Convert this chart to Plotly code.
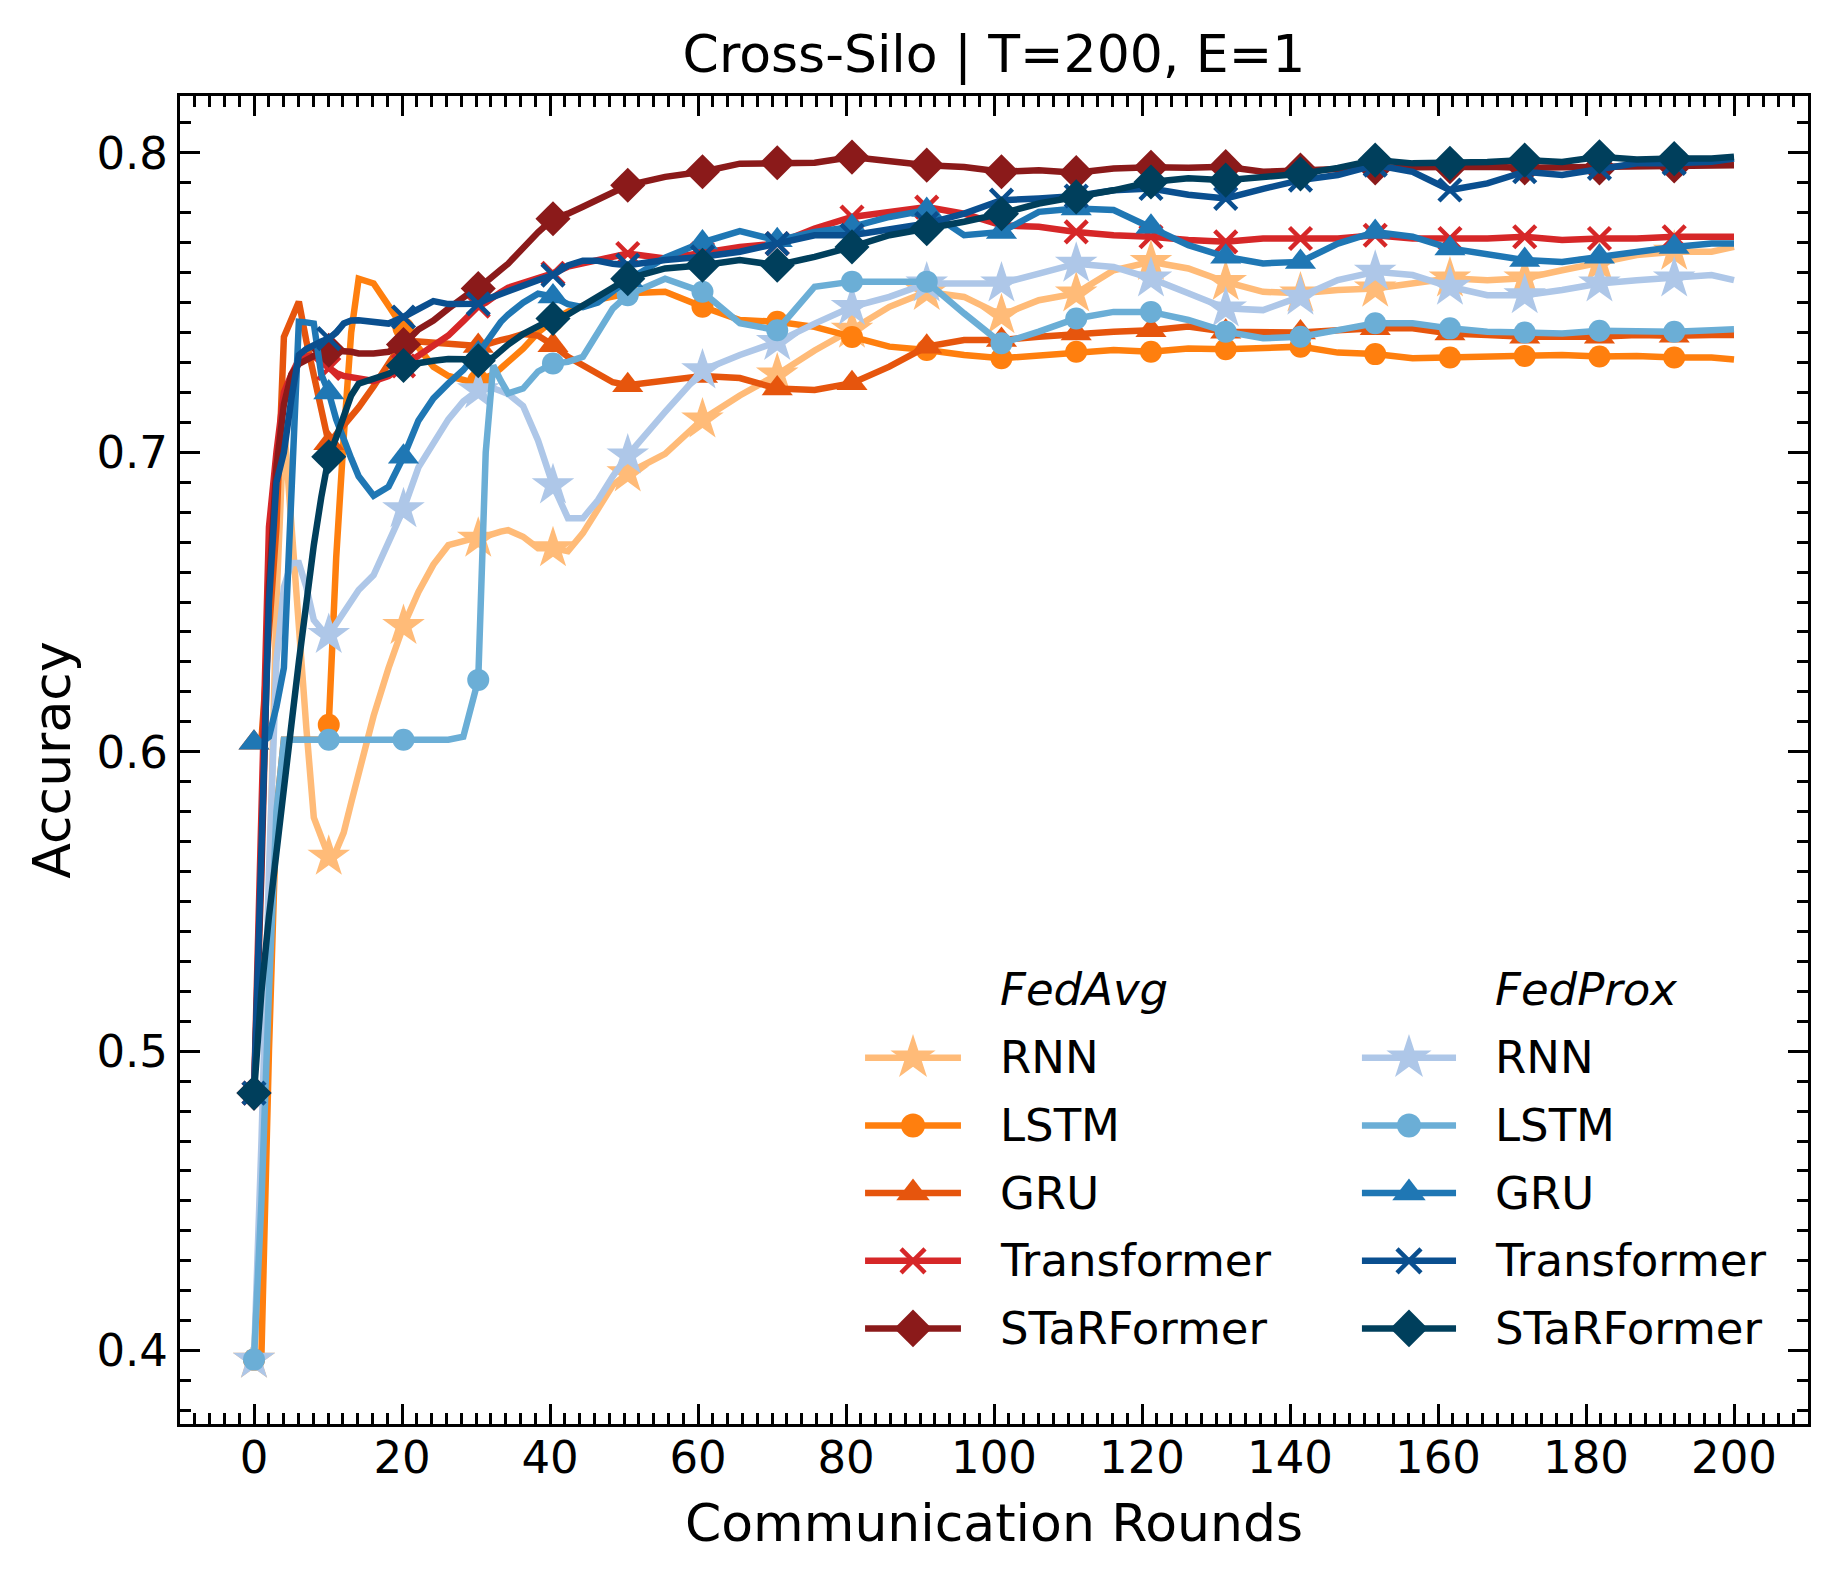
import plotly.graph_objects as go

# sampled round indices (data logged on 199 evenly spaced rounds between 0 and 200)
N_ROUNDS = 199
IDX = [0, 1, 2, 3, 4, 5, 6, 7, 8, 9, 10, 11, 12, 13, 14, 16, 18, 20, 22, 24, 26, 28,
       29, 30, 31, 32, 33, 34, 36, 38, 40, 42, 44, 46, 48, 50,
       55, 60, 65, 70, 75, 80, 85, 90, 95, 100, 105, 110, 115, 120,
       125, 130, 135, 140, 145, 150, 155, 160, 165, 170, 175, 180, 185, 190, 195, 198]

# FedAvg
rnn_avg = [0.397, 0.45, 0.55, 0.65, 0.71, 0.675, 0.64, 0.608, 0.578, 0.571, 0.565, 0.567, 0.573, 0.583, 0.593,
           0.612, 0.628, 0.642, 0.6534, 0.6625, 0.669, 0.6705, 0.671, 0.6712, 0.672, 0.673, 0.6735, 0.674,
           0.6718, 0.668, 0.668, 0.667, 0.673, 0.681, 0.689, 0.693,
           0.6995, 0.711, 0.719, 0.726, 0.734, 0.741, 0.7486, 0.7536, 0.7519, 0.7458, 0.7508, 0.7531, 0.7608, 0.7636,
           0.7614, 0.7569, 0.7536, 0.7531, 0.7542, 0.7547, 0.7564, 0.7581, 0.7575, 0.7581, 0.7608, 0.7631, 0.7659,
           0.767, 0.767, 0.7686]
lstm_avg = [0.397, 0.399, 0.50, 0.58, 0.604, 0.604, 0.604, 0.604, 0.604, 0.604, 0.609, 0.665, 0.705, 0.74, 0.758,
            0.7564, 0.749, 0.7414, 0.735, 0.7286, 0.7255, 0.7238, 0.7235, 0.724, 0.725, 0.726, 0.728, 0.730,
            0.7346, 0.740, 0.744, 0.747, 0.749, 0.751, 0.752, 0.7531,
            0.7536, 0.7486, 0.7442, 0.7436, 0.7419, 0.7385, 0.7353, 0.7342, 0.7325, 0.7314, 0.7325, 0.7336, 0.7342,
            0.7336, 0.7347, 0.7344, 0.735, 0.7353, 0.7333, 0.7328, 0.7314, 0.7317, 0.732, 0.7322, 0.7325, 0.732,
            0.7322, 0.7317, 0.7317, 0.731]
gru_avg = [0.603, 0.604, 0.64, 0.675, 0.7385, 0.7446, 0.7503, 0.7372, 0.725, 0.7145, 0.703, 0.706, 0.709, 0.712, 0.715,
           0.722, 0.73, 0.7372, 0.737, 0.7365, 0.736, 0.736, 0.7357, 0.7355, 0.736, 0.737, 0.7375, 0.738,
           0.7395, 0.739, 0.7358, 0.7319, 0.7289, 0.726, 0.7234, 0.7224,
           0.7241, 0.7255, 0.7248, 0.7213, 0.7208, 0.7231, 0.7286, 0.7353, 0.7375, 0.7375, 0.7386, 0.7397, 0.7403,
           0.7408, 0.742, 0.7403, 0.74, 0.74, 0.7408, 0.7414, 0.7414, 0.7397, 0.7392, 0.7386, 0.7386, 0.7386,
           0.7392, 0.7389, 0.7392, 0.7392]
tf_avg = [0.486, 0.58, 0.675, 0.70, 0.720, 0.726, 0.731, 0.732, 0.7322, 0.730, 0.728, 0.7265, 0.7255, 0.725, 0.7245,
          0.7238, 0.7255, 0.7289, 0.732, 0.7356, 0.739, 0.7438, 0.746, 0.7488, 0.750, 0.752, 0.7535, 0.755,
          0.7565, 0.758, 0.7598, 0.762, 0.763, 0.764, 0.765, 0.7664,
          0.7647, 0.7664, 0.7686, 0.7697, 0.7747, 0.7786, 0.7803, 0.7819, 0.7797, 0.7758, 0.7753, 0.7736, 0.7725,
          0.772, 0.7709, 0.7703, 0.7714, 0.7714, 0.7714, 0.7725, 0.7714, 0.7714, 0.7714, 0.772, 0.7709, 0.7714,
          0.7714, 0.772, 0.772, 0.772]
sf_avg = [0.486, 0.56, 0.655, 0.695, 0.716, 0.726, 0.7295, 0.731, 0.7325, 0.7335, 0.7341, 0.734, 0.7338, 0.7336, 0.733,
          0.733, 0.7336, 0.736, 0.741, 0.744, 0.748, 0.752, 0.7535, 0.7547, 0.757, 0.759, 0.761, 0.763,
          0.7685, 0.7735, 0.778, 0.7797, 0.782, 0.7845, 0.787, 0.7892,
          0.792, 0.7937, 0.7964, 0.7967, 0.7967, 0.7986, 0.7972, 0.7959, 0.7953, 0.7937, 0.7942, 0.7934, 0.7948,
          0.7952, 0.795, 0.7954, 0.7937, 0.7943, 0.7948, 0.795, 0.7952, 0.7954, 0.7954, 0.795, 0.7952, 0.795,
          0.7954, 0.7956, 0.7958, 0.7959]

# FedProx
rnn_prox = [0.397, 0.47, 0.56, 0.63, 0.655, 0.663, 0.663, 0.655, 0.644, 0.641, 0.639, 0.643, 0.647, 0.651, 0.654,
            0.659, 0.67, 0.681, 0.695, 0.703, 0.711, 0.717, 0.719, 0.7208, 0.7212, 0.7214, 0.7205, 0.7195,
            0.7155, 0.704, 0.689, 0.678, 0.678, 0.684, 0.692, 0.699,
            0.7135, 0.7274, 0.7325, 0.7369, 0.743, 0.7486, 0.7519, 0.7564, 0.7564, 0.7564, 0.7597, 0.763, 0.7619,
            0.7581, 0.7531, 0.7481, 0.7475, 0.752, 0.7575, 0.7603, 0.7592, 0.7553, 0.7525, 0.7525, 0.7542, 0.7564,
            0.7575, 0.7581, 0.7592, 0.7575]
lstm_prox = [0.397, 0.45, 0.52, 0.58, 0.604, 0.604, 0.604, 0.604, 0.604, 0.604, 0.604, 0.604, 0.604, 0.604, 0.604,
             0.604, 0.604, 0.604, 0.604, 0.604, 0.604, 0.605, 0.614, 0.624, 0.70, 0.729, 0.724, 0.7197,
             0.7213, 0.727, 0.7297, 0.7302, 0.7319, 0.740, 0.748, 0.7525,
             0.758, 0.7536, 0.7431, 0.7408, 0.7553, 0.757, 0.757, 0.757, 0.7464, 0.7364, 0.7403, 0.7447, 0.7469,
             0.7469, 0.7442, 0.7403, 0.7381, 0.7386, 0.7408, 0.7431, 0.7431, 0.7414, 0.7403, 0.74, 0.7397, 0.7406,
             0.7403, 0.7403, 0.7408, 0.7411]
gru_prox = [0.603, 0.603, 0.605, 0.615, 0.628, 0.685, 0.7436, 0.7434, 0.743, 0.726, 0.720, 0.711, 0.7041, 0.698, 0.692,
            0.6855, 0.6885, 0.6985, 0.7106, 0.718, 0.723, 0.7275, 0.7305, 0.733, 0.7365, 0.740, 0.7435, 0.746,
            0.750, 0.753, 0.752, 0.7495, 0.7485, 0.750, 0.754, 0.7575,
            0.765, 0.7701, 0.7739, 0.7708, 0.7736, 0.7753, 0.7786, 0.7809, 0.7725, 0.7736, 0.7803, 0.7814, 0.7809,
            0.7753, 0.7692, 0.7653, 0.7631, 0.7636, 0.7697, 0.7736, 0.772, 0.7681, 0.7664, 0.7642, 0.7636, 0.7653,
            0.767, 0.7686, 0.7697, 0.7697]
tf_prox = [0.486, 0.56, 0.65, 0.69, 0.70, 0.718, 0.7325, 0.7345, 0.736, 0.737, 0.738, 0.740, 0.743, 0.744, 0.7441,
           0.7436, 0.743, 0.7452, 0.748, 0.7505, 0.7495, 0.7493, 0.7495, 0.7496, 0.751, 0.752, 0.7528, 0.7535,
           0.7555, 0.7575, 0.7592, 0.7624, 0.764, 0.764, 0.763, 0.7625,
           0.7642, 0.7653, 0.767, 0.7697, 0.7725, 0.7725, 0.7747, 0.7764, 0.7797, 0.7842, 0.7848, 0.7856, 0.7875,
           0.7881, 0.786, 0.7848, 0.788, 0.7909, 0.7926, 0.7959, 0.7937, 0.7876, 0.7898, 0.7937, 0.7926, 0.7948,
           0.7965, 0.7965, 0.797, 0.7981]
sf_prox = [0.486, 0.52, 0.545, 0.568, 0.588, 0.609, 0.630, 0.651, 0.669, 0.685, 0.6985, 0.705, 0.712, 0.719, 0.7229,
           0.7246, 0.7262, 0.729, 0.730, 0.7306, 0.7312, 0.731, 0.7308, 0.7306, 0.731, 0.7317, 0.734, 0.736,
           0.7395, 0.742, 0.7447, 0.746, 0.749, 0.752, 0.755, 0.758,
           0.7614, 0.7625, 0.7642, 0.7625, 0.7653, 0.7686, 0.7725, 0.7747, 0.777, 0.7797, 0.7831, 0.7853, 0.7875,
           0.7903, 0.7915, 0.7909, 0.792, 0.793, 0.795, 0.7976, 0.7965, 0.7965, 0.797, 0.7976, 0.797, 0.7987,
           0.7978, 0.7981, 0.7981, 0.7987]

MODELS = ["RNN", "LSTM", "GRU", "Transformer", "STaRFormer"]
SYMBOLS = ["star", "circle", "triangle-up", "x-thin", "diamond"]
MSIZE = [32, 22, 27, 22, 27]
COLORS_AVG = ["#ffbb78", "#ff7f0e", "#e6550d", "#d62728", "#8b1a1a"]
COLORS_PROX = ["#aec7e8", "#6baed6", "#1f77b4", "#0a4f8f", "#003f5c"]
AVG = [rnn_avg, lstm_avg, gru_avg, tf_avg, sf_avg]
PROX = [rnn_prox, lstm_prox, gru_prox, tf_prox, sf_prox]

FONT = "DejaVu Sans"
LW = 6.5
rounds = [i * 200 / (N_ROUNDS - 1) for i in IDX]

fig = go.Figure()


def marker_style(sym, color, sizes):
    # opacity forced to 1: plotly lowers it by default when sizes are given as an array
    m = dict(symbol=sym, color=color, size=sizes, opacity=1, line=dict(width=0))
    if sym == "x-thin":
        m["line"] = dict(width=4.5, color=color)
    return m


for group, colors in [(AVG, COLORS_AVG), (PROX, COLORS_PROX)]:
    for k, vals in enumerate(group):
        sizes = [MSIZE[k] if i % 10 == 0 else 0 for i in IDX]
        fig.add_trace(go.Scatter(x=rounds, y=vals, mode="lines+markers",
                                 line=dict(color=colors[k], width=LW),
                                 marker=marker_style(SYMBOLS[k], colors[k], sizes),
                                 showlegend=False, hoverinfo="skip"))

# hand-made legend (two columns with headers), drawn on an overlay axis spanning the plot area
cols = [(0.4208, 0.4797, 0.5025, COLORS_AVG, "FedAvg"), (0.7260, 0.7838, 0.8065, COLORS_PROX, "FedProx")]
row_y = [0.2758, 0.2248, 0.1739, 0.1229, 0.0720]
for x0, x1, xt, colors, head in cols:
    fig.add_annotation(x=xt, y=0.3275, xref="paper", yref="paper", text="<i>%s</i>" % head,
                       showarrow=False, xanchor="left", yanchor="middle",
                       font=dict(family=FONT, size=45, color="black"))
    for k, name in enumerate(MODELS):
        fig.add_trace(go.Scatter(x=[x0, (x0 + x1) / 2, x1], y=[row_y[k]] * 3, mode="lines+markers",
                                 xaxis="x2", yaxis="y2",
                                 line=dict(color=colors[k], width=LW),
                                 marker=marker_style(SYMBOLS[k], colors[k], [0, MSIZE[k] + 2, 0]),
                                 showlegend=False, hoverinfo="skip"))
        fig.add_annotation(x=xt, y=row_y[k], xref="paper", yref="paper", text=name,
                           showarrow=False, xanchor="left", yanchor="middle",
                           font=dict(family=FONT, size=45, color="black"))

axis_common = dict(showline=True, linewidth=3, linecolor="black", mirror="allticks",
                   ticks="inside", ticklen=20, tickwidth=3, tickcolor="black",
                   showgrid=False, zeroline=False,
                   tickfont=dict(family=FONT, size=45, color="black"))

fig.update_layout(
    width=1829, height=1571,
    margin=dict(l=172, r=29, t=88, b=155),
    paper_bgcolor="white", plot_bgcolor="white",
    showlegend=False,
    title=dict(text="Cross-Silo | T=200, E=1", x=0.5, xref="paper", xanchor="center",
               y=0.971, yref="container", yanchor="middle",
               font=dict(family=FONT, size=52, color="black")),
    xaxis=dict(range=[-10, 210], tickvals=list(range(0, 201, 20)), ticklabelstandoff=-8,
               minor=dict(ticks="inside", ticklen=11, tickwidth=3, tickcolor="black", dtick=2, tick0=0),
               title=dict(text="Communication Rounds", font=dict(family=FONT, size=52, color="black"),
                          standoff=22),
               **axis_common),
    yaxis=dict(range=[0.3755, 0.819], dtick=0.1, tick0=0.4,
               minor=dict(ticks="inside", ticklen=11, tickwidth=3, tickcolor="black", dtick=0.01, tick0=0.4),
               title=dict(text="Accuracy", font=dict(family=FONT, size=52, color="black"), standoff=10),
               **axis_common),
    xaxis2=dict(range=[0, 1], overlaying="x", visible=False, anchor="y2"),
    yaxis2=dict(range=[0, 1], overlaying="y", visible=False, anchor="x2"),
)

fig.write_html("out.html")
